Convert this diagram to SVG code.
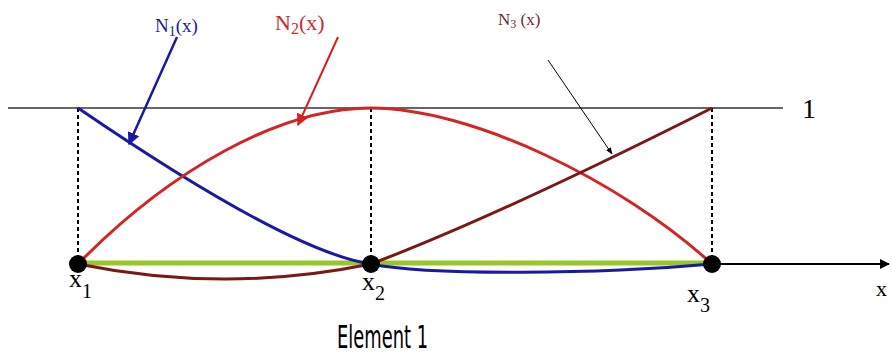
<svg xmlns="http://www.w3.org/2000/svg" width="892" height="358" viewBox="0 0 892 358">
<defs>
<style>
.lbl{font-family:"Liberation Serif","Times New Roman",serif;}
.dash{stroke:#000;stroke-width:2;stroke-dasharray:4,3;fill:none}
.curve{fill:none;stroke-width:3}
</style>
<marker id="aBlue" viewBox="0 0 10 10" refX="9" refY="5" markerWidth="5" markerHeight="5" orient="auto"><path d="M0,0 L10,5 L0,10 z" fill="#1a1aa0"/></marker>
<marker id="aRed" viewBox="0 0 10 10" refX="9" refY="5" markerWidth="6" markerHeight="6" orient="auto"><path d="M0,0 L10,5 L0,10 z" fill="#d42020"/></marker>
<marker id="aBlack" viewBox="0 0 10 10" refX="9" refY="5" markerWidth="7" markerHeight="7" orient="auto"><path d="M0,1 L10,5 L0,9 z" fill="#000"/></marker>
<marker id="aAxis" viewBox="0 0 10 10" refX="9" refY="5" markerWidth="5" markerHeight="5" orient="auto"><path d="M0,0 L10,5 L0,10 z" fill="#000"/></marker>
</defs>
<rect width="892" height="358" fill="#fff"/>
<g id="connectors">
<line x1="8" y1="108" x2="783" y2="108" stroke="#333" stroke-width="1.3"/>
<line class="dash" x1="78" y1="108" x2="78" y2="262"/>
<line class="dash" x1="371" y1="108" x2="371" y2="262"/>
<line class="dash" x1="712" y1="108" x2="712" y2="262"/>
<line x1="712" y1="264" x2="889" y2="264" stroke="#000" stroke-width="2" marker-end="url(#aAxis)"/>
<line x1="78" y1="263" x2="712" y2="263" stroke="#99c62a" stroke-width="5"/>
<path class="curve" d="M78,108 Q289,252 371,264 C430,276 600,274 712,264" stroke="#1a1aa0"/>
<path class="curve" d="M78,264 C170,170 280,108 371,108 C470,108 620,180 712,264" stroke="#d42424"/>
<path class="curve" d="M78,264 Q225,294 371,264 Q500,215 712,108" stroke="#7a1818"/>
<line x1="177" y1="37" x2="129" y2="144" stroke="#1a1aa0" stroke-width="2.5" marker-end="url(#aBlue)"/>
<line x1="338" y1="37" x2="298" y2="125" stroke="#d42020" stroke-width="2" marker-end="url(#aRed)"/>
<line x1="548" y1="60" x2="612" y2="154" stroke="#000" stroke-width="1" marker-end="url(#aBlack)"/>
</g>
<g id="node-x1"><circle cx="78" cy="264" r="9" fill="#000"/><text class="lbl" x="69" y="287" font-size="26">x<tspan font-size="20" dy="11">1</tspan></text></g>
<g id="node-x2"><circle cx="371" cy="264" r="9" fill="#000"/><text class="lbl" x="362" y="290" font-size="26">x<tspan font-size="20" dy="10">2</tspan></text></g>
<g id="node-x3"><circle cx="712" cy="264" r="9" fill="#000"/><text class="lbl" x="687" y="302" font-size="26">x<tspan font-size="20" dy="10">3</tspan></text></g>
<g id="labels">
<text class="lbl" x="155" y="32" font-size="19" fill="#1a1a90">N<tspan font-size="14" dy="4">1</tspan><tspan dy="-4">(x)</tspan></text>
<text class="lbl" x="275" y="30" font-size="22" fill="#cc2a2a">N<tspan font-size="16" dy="4">2</tspan><tspan dy="-4">(x)</tspan></text>
<text class="lbl" x="498" y="25" font-size="17" fill="#6b2a2a">N<tspan font-size="12" dy="3">3</tspan><tspan dy="-3"> (x)</tspan></text>
<text class="lbl" x="802" y="118" font-size="28" fill="#000">1</text>
<text class="lbl" x="876" y="296" font-size="22" fill="#000">x</text>
<text x="337" y="348" font-family="DejaVu Sans Condensed, sans-serif" font-size="32" textLength="91" lengthAdjust="spacingAndGlyphs" fill="#000">Element 1</text>
</g>
</svg>
